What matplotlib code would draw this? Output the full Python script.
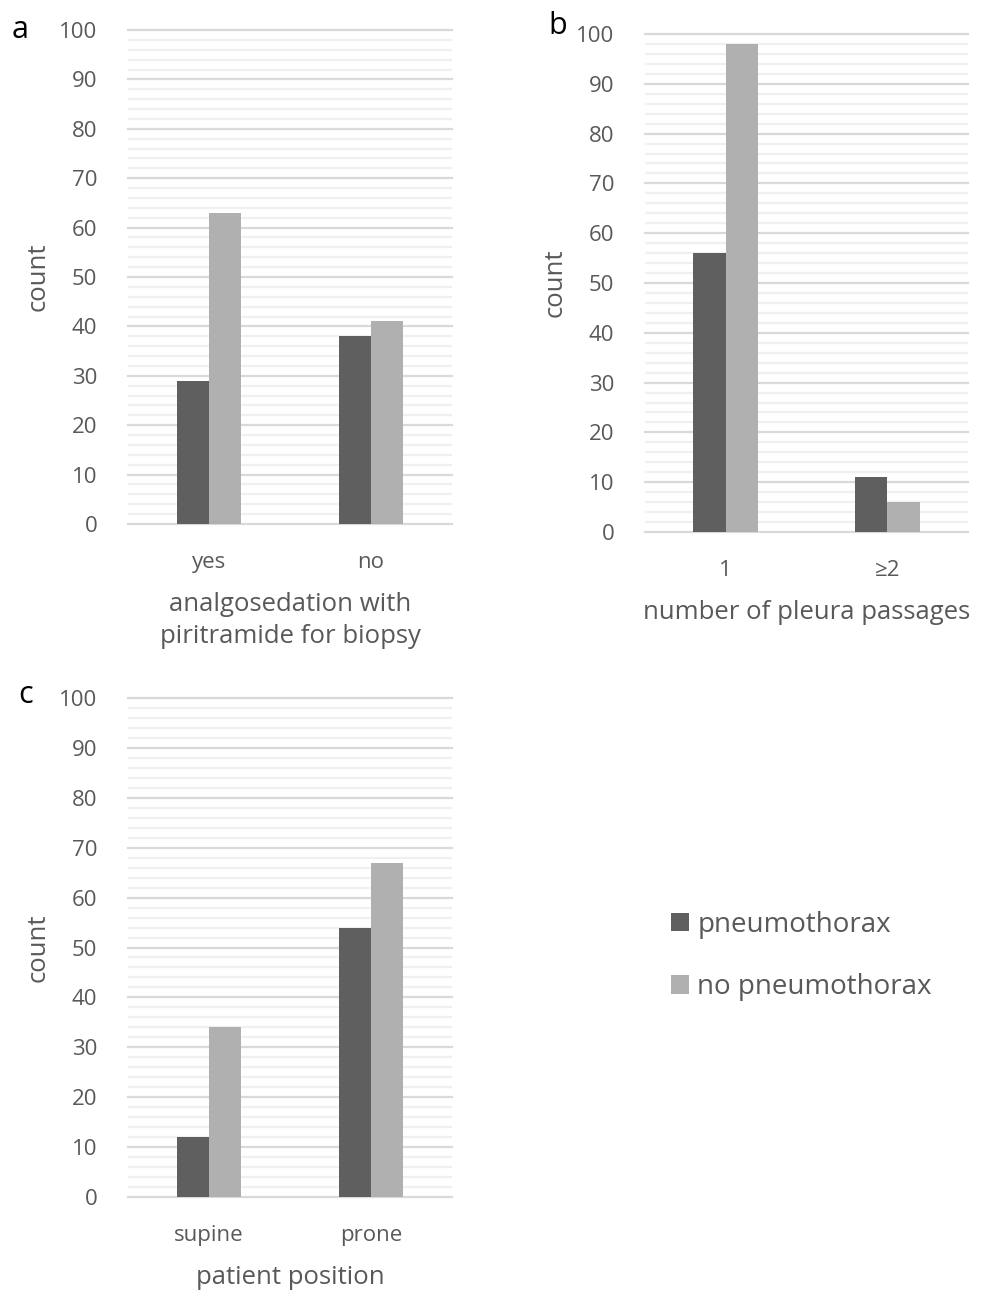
import matplotlib
matplotlib.use("Agg")
import matplotlib.pyplot as plt
from matplotlib.ticker import MultipleLocator

plt.rcParams['font.family'] = ['Open Sans', 'DejaVu Sans']

# data
series = ["pneumothorax", "no pneumothorax"]
colors = ["#5f5f5f", "#b0b0b0"]

cats_a = ["yes", "no"]
ptx_a = [29, 38]
noptx_a = [63, 41]

cats_b = ["1", "≥2"]
ptx_b = [56, 11]
noptx_b = [98, 6]

cats_c = ["supine", "prone"]
ptx_c = [12, 54]
noptx_c = [34, 67]

W, H = 989, 1292
fig = plt.figure(figsize=(W / 100, H / 100), dpi=100)


def px_axes(left, top, right, bottom):
    return fig.add_axes([left / W, 1 - bottom / H, (right - left) / W, (bottom - top) / H])


tick_col = "#595959"


def draw(ax, cats, v1, v2, xlabel):
    x = range(len(cats))
    w = 0.2
    bars = []
    for i, (vals, c) in enumerate(zip([v1, v2], colors)):
        b = ax.bar([xi - w / 2 + i * w for xi in x], vals, width=w, color=c,
                   label=series[i], zorder=3)
        bars.append(b)
    ax.set_xlim(-0.5, len(cats) - 0.5)
    ax.set_ylim(0, 100)
    ax.yaxis.set_major_locator(MultipleLocator(10))
    ax.yaxis.set_minor_locator(MultipleLocator(2))
    ax.grid(axis="y", which="major", color="#d9d9d9", lw=1.6, zorder=1)
    ax.grid(axis="y", which="minor", color="#f0f0f0", lw=1.6, zorder=0)
    for ln in ax.get_ygridlines():
        ln.set_clip_on(False)
    for s in ax.spines.values():
        s.set_visible(False)
    ax.set_xticks(list(x))
    ax.set_xticklabels(cats)
    ax.tick_params(axis="y", which="both", length=0, pad=22, labelsize=16, labelcolor=tick_col)
    ax.tick_params(axis="x", length=0, pad=20, labelsize=16, labelcolor=tick_col)
    ax.set_ylabel("count", fontsize=18.5, color=tick_col, va="center")
    ax.yaxis.set_label_coords(-0.278, 0.5)
    ax.set_xlabel(xlabel, fontsize=18.5, color=tick_col, labelpad=14, linespacing=1.35)
    ax.set_facecolor("white")
    return bars


ax_a = px_axes(128, 30, 452, 524)
ax_b = px_axes(645, 34, 968, 532)
ax_c = px_axes(128, 698, 452, 1197)

draw(ax_a, cats_a, ptx_a, noptx_a, "analgosedation with\npiritramide for biopsy")
draw(ax_b, cats_b, ptx_b, noptx_b, "number of pleura passages")
bars = draw(ax_c, cats_c, ptx_c, noptx_c, "patient position")

fig.text(12 / W, 1 - 30 / H, "a", fontsize=22, va="center", ha="left")
fig.text(548 / W, 1 - 26 / H, "b", fontsize=22, va="center", ha="left")
fig.text(18 / W, 1 - 695 / H, "c", fontsize=22, va="center", ha="left")

leg = fig.legend(handles=bars, labels=series, loc="center left",
                 bbox_to_anchor=(646 / W, 1 - 956 / H), frameon=False,
                 fontsize=20, handlelength=0.65, handleheight=0.65,
                 handletextpad=0.3, labelspacing=1.25)
for t in leg.get_texts():
    t.set_color(tick_col)

fig.savefig("out.png", dpi=100, facecolor="white")
